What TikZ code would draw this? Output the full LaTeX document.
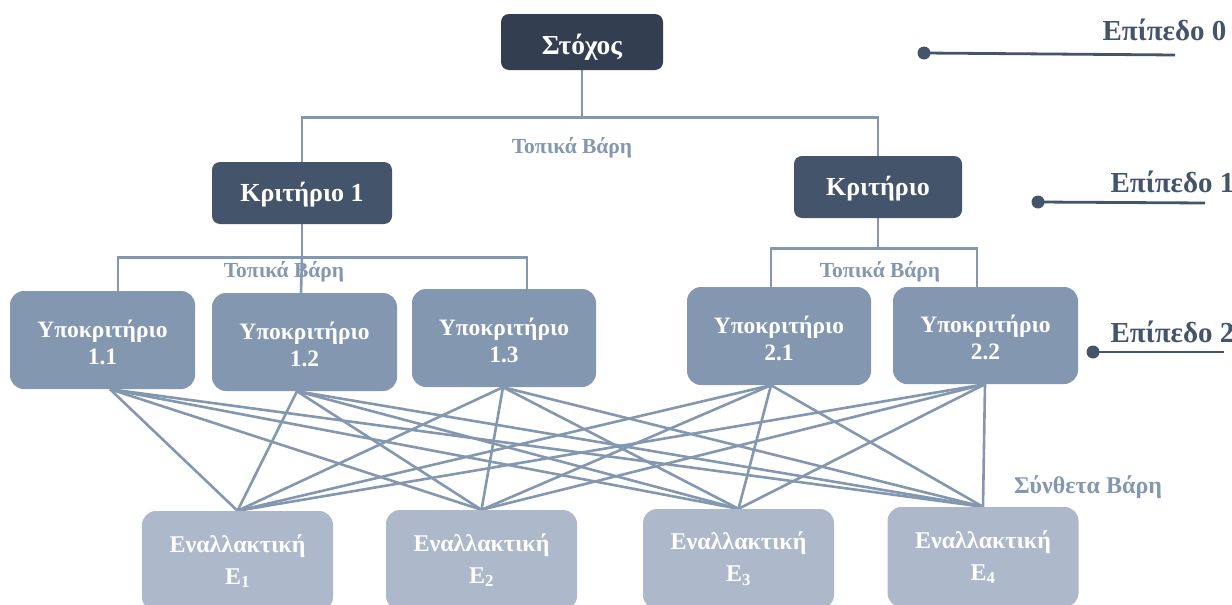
\documentclass[tikz,border=0pt]{standalone}
\usepackage{fontspec}
\setmainfont{Liberation Serif}
\usetikzlibrary{calc,backgrounds}
\definecolor{navy}{HTML}{333F50}
\definecolor{slate}{HTML}{44546A}
\definecolor{steel}{HTML}{8497B0}
\definecolor{mist}{HTML}{ADB9CA}
% two centred lines set as one block
\newcommand\pairtext[2]{\begin{tabular}{@{}c@{}}#1\\#2\end{tabular}}

\begin{document}
\begin{tikzpicture}[x=1pt,y=-1pt,
  box/.style={rounded corners=8pt, text=white, align=center, inner sep=0pt,
    font=\bfseries\fontsize{26}{28}\selectfont},
  goalbox/.style={box, fill=navy, minimum width=162pt, minimum height=56pt,
    font=\bfseries\fontsize{27.5}{30}\selectfont, text height=24pt, text depth=0pt},
  critbox/.style={box, fill=slate, minimum height=62pt, text height=16pt, text depth=0pt},
  subbox/.style={rounded corners=14pt, text=white, inner sep=0pt, fill=steel,
    minimum width=185pt, minimum height=98pt, text height=23.6pt, text depth=0pt,
    font=\bfseries\fontsize{23.5}{27}\selectfont},
  altbox/.style={box, fill=mist, rounded corners=14pt, minimum width=191pt,
    minimum height=100pt, font=\bfseries\fontsize{24}{32}\selectfont},
  link/.style={draw=steel, line width=2.6pt},
  weight/.style={text=steel, font=\bfseries\fontsize{21.5}{24}\selectfont},
  level/.style={text=slate, font=\bfseries\fontsize{29}{32}\selectfont},
  levelline/.style={draw=slate, line width=2.8pt},
  dot/.style={circle, fill=slate, inner sep=0pt, minimum size=13pt},
]
\useasboundingbox (0,0) rectangle (1232,605);

% boxes of the hierarchy
\node[goalbox] (goal) at (582,42) {Στόχος};
\node[critbox, minimum width=180pt] (k1) at (302,193) {Κριτήριο 1};
\node[critbox, minimum width=168pt] (k2) at (878,187) {Κριτήριο};

\node[subbox] (s11) at (102.5,340) {\pairtext{Υποκριτήριο}{1.1}};
\node[subbox] (s12) at (304.5,342) {\pairtext{Υποκριτήριο}{1.2}};
\node[subbox, minimum width=184pt] (s13) at (504,338) {\pairtext{Υποκριτήριο}{1.3}};
\node[subbox, minimum width=184pt] (s21) at (779,336) {\pairtext{Υποκριτήριο}{2.1}};
\node[subbox, minimum height=97pt] (s22) at (985.5,335.5) {\pairtext{Υποκριτήριο}{2.2}};

\node[altbox] (e1) at (237.5,561) {Εναλλακτική\\Ε\textsubscript{1}};
\node[altbox] (e2) at (481.5,560) {Εναλλακτική\\Ε\textsubscript{2}};
\node[altbox] (e3) at (738.5,559) {Εναλλακτική\\Ε\textsubscript{3}};
\node[altbox] (e4) at (983,557) {Εναλλακτική\\Ε\textsubscript{4}};

\begin{scope}[on background layer]
% level 0 -> level 1
\coordinate (j0) at ($(goal.south)+(0,47)$);
\draw[link] (goal.south) -- (j0);
\draw[link] (k1.north) |- (j0) -| (k2.north);

% level 1 -> level 2
\coordinate (j1) at ($(k1.south)+(0,33)$);
\coordinate (j2) at ($(k2.south)+(0,30)$);
\draw[link] (k1.south) -- (j1);
\draw[link] ($(s11.north)+(15.5,0)$) |- (j1) -| ($(s13.north)+(23,0)$);
\draw[link] (j1) -- ($(s12.north)+(-3.5,0)$);
\draw[link] (k2.south) -- (j2);
\draw[link] ($(s21.north)+(-8,0)$) |- (j2) -| ($(s22.north)+(-8.5,0)$);

% level 2 -> alternatives
\coordinate (b11) at ($(s11.south)+(7.5,0)$);
\coordinate (b12) at ($(s12.south)+(-7.5,0)$);
\coordinate (b13) at ($(s13.south)+(-1,0)$);
\coordinate (b21) at ($(s21.south)+(-8,0)$);
\coordinate (b22) at ($(s22.south)+(-0.5,0)$);
\foreach \s in {b11,b12,b13,b21,b22}
  \foreach \e in {e1,e2,e3,e4}
    \draw[link] (\s) -- (\e.north);
\end{scope}

% weight labels
\node[weight] (w0) at (572,148) {Τοπικά Βάρη};
\node[weight] (w1) at (284,272) {Τοπικά Βάρη};
\node[weight] (w2) at (880,272) {Τοπικά Βάρη};
\node[weight, font=\bfseries\fontsize{24}{26}\selectfont] (w3) at (1088,487) {Σύνθετα Βάρη};

% level markers
\node[dot] (d0) at (924,53) {};
\coordinate (l0) at (1175,55);
\draw[levelline] (d0.center) -- (l0);
\node[level, anchor=base west] (t0) at (1099,40) {Επίπεδο 0};

\node[dot] (d1) at (1038,202) {};
\coordinate (l1) at (1205,203);
\draw[levelline] (d1.center) -- (l1);
\node[level, anchor=base west] (t1) at (1107,192) {Επίπεδο 1};

\node[dot] (d2) at (1093,352) {};
\coordinate (l2) at (1224,352);
\draw[levelline] (d2.center) -- (l2);
\node[level, anchor=base west] (t2) at (1107,342) {Επίπεδο 2};
\end{tikzpicture}
\end{document}
